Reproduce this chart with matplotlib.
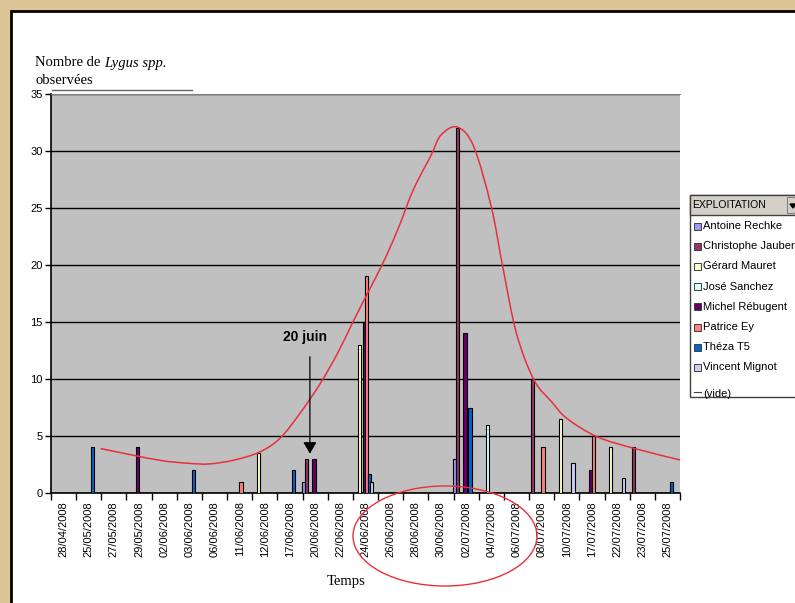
import matplotlib
matplotlib.use('Agg')
import matplotlib.pyplot as plt
from matplotlib.patches import Rectangle, Ellipse, Polygon, PathPatch
from matplotlib.path import Path
import numpy as np

# categories on the x axis (observation dates)
dates = ['28/04/2008', '25/05/2008', '27/05/2008', '29/05/2008', '02/06/2008',
         '03/06/2008', '06/06/2008', '11/06/2008', '12/06/2008', '17/06/2008',
         '20/06/2008', '22/06/2008', '24/06/2008', '26/06/2008', '28/06/2008',
         '30/06/2008', '02/07/2008', '04/07/2008', '06/07/2008', '08/07/2008',
         '10/07/2008', '17/07/2008', '22/07/2008', '23/07/2008', '25/07/2008']

exploitations = ['Antoine Rechke', 'Christophe Jaubert', 'Gérard Mauret', 'José Sanchez',
                 'Michel Rébugent', 'Patrice Ey', 'Théza T5', 'Vincent Mignot']
colors = ['#9999FF', '#993366', '#FFFFCC', '#CCFFFF', '#660066', '#FF8080', '#0066CC', '#CCCCFF']

# number of Lygus per date, one list per farm
antoine    = [0, 0, 0, 0, 0, 0, 0, 0, 0, 0, 1, 0, 0, 0, 0, 0, 3, 0, 0, 0, 0, 0, 0, 0, 0]
christophe = [0, 0, 0, 0, 0, 0, 0, 0, 0, 0, 3, 0, 0, 0, 0, 0, 32, 0, 0, 10, 0, 0, 0, 4, 0]
gerard     = [0, 0, 0, 0, 0, 0, 0, 0, 3.5, 0, 0, 0, 13, 0, 0, 0, 0, 0, 0, 0, 6.5, 0, 4, 0, 0]
jose       = [0, 0, 0, 0, 0, 0, 0, 0, 0, 0, 0, 0, 0, 0, 0, 0, 0, 6, 0, 0, 0, 0, 0, 0, 0]
michel     = [0, 0, 0, 4, 0, 0, 0, 0, 0, 0, 3, 0, 15, 0, 0, 0, 14, 0, 0, 0, 0, 2, 0, 0, 0]
patrice    = [0, 0, 0, 0, 0, 0, 0, 1, 0, 0, 0, 0, 19, 0, 0, 0, 0, 0, 0, 4, 0, 5, 0, 0, 0]
theza      = [0, 4, 0, 0, 0, 2, 0, 0, 0, 2, 0, 0, 1.7, 0, 0, 0, 7.5, 0, 0, 0, 0, 0, 0, 0, 1]
vincent    = [0, 0, 0, 0, 0, 0, 0, 0, 0, 0, 0, 0, 1, 0, 0, 0, 0, 0, 0, 0, 2.6, 0, 1.3, 0, 0]
series = [antoine, christophe, gerard, jose, michel, patrice, theza, vincent]

# hand drawn red trend curve (x in category units, y in counts)
curve_x = [1.97, 3.23, 4.43, 5.5, 6.3, 7.3, 8.3, 9.1, 9.9, 10.7, 11.4, 12.0, 12.6, 13.2,
           13.8, 14.4, 15.1, 15.5, 16.15, 16.8, 17.5, 17.95, 18.5, 19.2, 19.9, 20.5,
           21.7, 23.2, 25.0]
curve_y = [3.9, 3.33, 2.83, 2.6, 2.55, 2.9, 3.6, 4.8, 7.0, 9.6, 12.3, 15.0, 17.6, 20.2,
           23.2, 26.6, 29.6, 31.4, 32.1, 30.4, 25.1, 19.9, 14.0, 9.9, 8.0, 6.55,
           4.94, 3.9, 2.9]


def smooth_path(xs, ys):
    # bezier path going through the points (catmull-rom control points)
    p = np.column_stack([xs, ys])
    verts = [p[0]]
    codes = [Path.MOVETO]
    for i in range(len(p) - 1):
        p0 = p[i - 1] if i > 0 else p[i]
        p3 = p[i + 2] if i + 2 < len(p) else p[i + 1]
        c1 = p[i] + (p[i + 1] - p0) / 6
        c2 = p[i + 1] - (p3 - p[i]) / 6
        verts += [c1, c2, p[i + 1]]
        codes += [Path.CURVE4] * 3
    return Path(verts, codes)


W, H = 795, 603
fig = plt.figure(figsize=(W / 100, H / 100), dpi=100)
fig.patch.set_facecolor('#dcc497')

# background white panel, pixel coordinates
bg = fig.add_axes([0, 0, 1, 1], zorder=-1)
bg.set_xlim(0, W)
bg.set_ylim(H, 0)
bg.axis('off')
bg.add_patch(Rectangle((11, 11), W + 20, H + 20, facecolor='white', edgecolor='black', linewidth=2))

# main plot area
left, right, top, bottom = 51, 680, 94, 493
ax = fig.add_axes([left / W, 1 - bottom / H, (right - left) / W, (bottom - top) / H])
ax.set_facecolor('#C0C0C0')

n = len(dates)
idx = np.arange(n)
bw = 0.13
for i, vals in enumerate(series):
    vals = np.array(vals, dtype=float)
    mask = vals > 0
    ax.bar(idx[mask] + 0.05 + 0.1 * i, vals[mask], width=bw, color=colors[i],
           edgecolor='black', linewidth=0.8, zorder=3)

ax.add_patch(PathPatch(smooth_path(curve_x, curve_y), fill=False, edgecolor='#e8303c',
                       linewidth=1.1, zorder=4, clip_on=False))

ax.set_xlim(0, n)
ax.set_ylim(0, 35)
ax.set_yticks(range(0, 36, 5))
ax.yaxis.grid(True, color='black', linewidth=1.0)
ax.set_axisbelow(True)

ax.set_xticks(np.arange(0, n + 1))
ax.set_xticklabels([])
ax.set_xticks(idx + 0.5, minor=True)
ax.set_xticklabels(dates, minor=True, rotation=90, fontsize=8, family='Liberation Sans')
ax.tick_params(axis='x', which='major', length=5, width=1, direction='out')
ax.tick_params(axis='x', which='minor', length=0, pad=6)
ax.tick_params(axis='y', length=4, width=1, labelsize=8, pad=2)
for lab in ax.get_yticklabels():
    lab.set_family('Liberation Sans')

ax.spines['left'].set_linewidth(1.2)
ax.spines['bottom'].set_linewidth(1.2)
ax.spines['top'].set_color('#808080')
ax.spines['right'].set_visible(False)

# 20 juin arrow
ax.annotate('', xy=(10.29, 3.2), xytext=(10.29, 12.2),
            arrowprops=dict(arrowstyle='-|>,head_width=0.4,head_length=0.7',
                            color='black', linewidth=0.9), zorder=5)
ax.text(10.1, 13.7, '20 juin', fontsize=10, fontweight='bold', family='Liberation Sans',
        ha='center', va='center', zorder=5)

# overlay in pixel coordinates: titles, ellipse, legend
cv = fig.add_axes([0, 0, 1, 1], zorder=5)
cv.set_xlim(0, W)
cv.set_ylim(H, 0)
cv.axis('off')
cv.patch.set_alpha(0)

t1 = cv.text(35, 63, 'Nombre de ', fontsize=10.5, family='Liberation Serif', va='center')
cv.annotate('Lygus spp.', xy=(1, 0), xycoords=t1, va='bottom', ha='left',
            fontsize=10.5, family='Liberation Serif', style='italic')
cv.text(36, 81, 'observées', fontsize=10.5, family='Liberation Serif', va='center')
cv.plot([52, 192], [90, 90], color='#606060', linewidth=1)
cv.text(346, 582, 'Temps', fontsize=10.5, family='Liberation Serif', ha='center', va='center')

cv.add_patch(Ellipse((445, 536), 184, 100, fill=False, edgecolor='#e8303c', linewidth=1.0))

# pivot-table style legend, cut by the right edge like in the original
lx, ly, lh = 690, 195, 202
box = Rectangle((lx, ly), 120, lh, facecolor='white', edgecolor='#404040', linewidth=1)
cv.add_patch(box)
cv.add_patch(Rectangle((lx, ly), 120, 20, facecolor='#d4d0c8', edgecolor='#404040', linewidth=1))
cv.text(lx + 2, ly + 10, 'EXPLOITATION', fontsize=7.5, family='Liberation Sans', va='center')
cv.add_patch(Rectangle((787, ly + 2), 14, 16, facecolor='#d4d0c8', edgecolor='#808080', linewidth=0.8))
cv.add_patch(Polygon([[790, ly + 9], [796, ly + 9], [793, ly + 13]], closed=True, color='black'))

for i, name in enumerate(exploitations):
    yy = 226 + 20.2 * i
    cv.add_patch(Rectangle((lx + 4, yy - 3.5), 7, 7, facecolor=colors[i], edgecolor='#404040', linewidth=0.7))
    cv.text(lx + 13, yy, name, fontsize=8, family='Liberation Sans', va='center')

yy = 226 + 20.2 * 8 + 6
cv.plot([lx + 4, lx + 11], [yy - 2, yy - 2], color='#404040', linewidth=0.8)
tv = cv.text(lx + 13, yy, '(vide)', fontsize=8, family='Liberation Sans', va='center')
tv.set_clip_path(box)

fig.savefig('out.png', dpi=100, facecolor=fig.get_facecolor())
